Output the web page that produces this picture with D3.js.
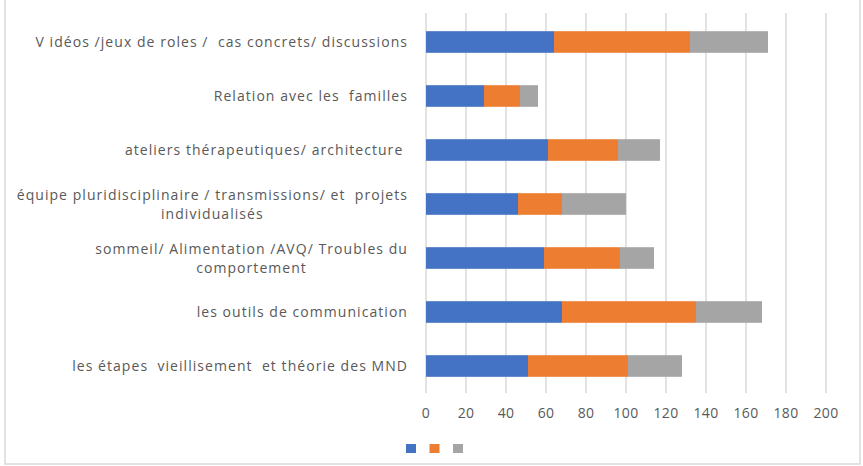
<!DOCTYPE html>
<html><head><meta charset="utf-8">
<script src="https://cdn.jsdelivr.net/npm/d3@7"></script>
<style>body{margin:0;background:#fff}svg{display:block}text{font-family:"Open Sans",sans-serif;fill:#595959}</style>
</head><body>
<svg id="c" width="863" height="466"></svg>
<script>
const categories = [
  ["V idéos /jeux de roles /  cas concrets/ discussions"],
  ["Relation avec les  familles"],
  ["ateliers thérapeutiques/ architecture "],
  ["équipe pluridisciplinaire / transmissions/ et  projets", "individualisés"],
  ["sommeil/ Alimentation /AVQ/ Troubles du", "comportement"],
  ["les outils de communication"],
  ["les étapes  vieillisement  et théorie des MND"]
];
const series1 = [64, 29, 61, 46, 59, 68, 51];
const series2 = [68, 18, 35, 22, 38, 67, 50];
const series3 = [39, 9, 21, 32, 17, 33, 27];
const seriesNames = ["", "", ""];
const tickValues = [0, 20, 40, 60, 80, 100, 120, 140, 160, 180, 200];
const colors = ["#4472C4", "#ED7D31", "#A5A5A5"];

(function() {
const svg = d3.select("#c");
svg.append("rect").attr("x", 5).attr("y", -2).attr("width", 855).attr("height", 466)
  .attr("fill", "#fff").attr("stroke", "#d9d9d9").attr("stroke-width", 1.5);

const pL = 426, pR = 826, pT = 15, pB = 393;
const x = d3.scaleLinear().domain([0, 200]).range([pL, pR]);
const y = d3.scaleBand().domain(d3.range(categories.length)).range([pT, pB]).paddingInner(0.6).paddingOuter(0.3);

svg.append("g").selectAll("line").data(tickValues).join("line")
  .attr("x1", d => x(d)).attr("x2", d => x(d)).attr("y1", 13).attr("y2", pB)
  .attr("stroke", "#d9d9d9").attr("stroke-width", 1.5);

const rows = categories.map((c, i) => ({i, v: [series1[i], series2[i], series3[i]]}));
const stacked = d3.stack().keys([0, 1, 2]).value((d, k) => d.v[k])(rows);
svg.append("g").selectAll("g").data(stacked).join("g").attr("fill", (d, k) => colors[k])
  .selectAll("rect").data(d => d).join("rect")
  .attr("x", d => x(d[0])).attr("width", d => x(d[1]) - x(d[0]))
  .attr("y", d => y(d.data.i)).attr("height", y.bandwidth());

svg.append("g").selectAll("text").data(tickValues).join("text")
  .attr("x", d => x(d)).attr("y", 418).attr("text-anchor", "middle")
  .attr("font-size", 14).style("letter-spacing", "0.3px").text(d => d);

const lineH = 19;
const lab = svg.append("g").selectAll("text").data(categories).join("text")
  .attr("text-anchor", "middle").attr("font-size", 14)
  .style("letter-spacing", "1.05px").style("white-space", "pre");
lab.each(function(lines, i) {
  const t = d3.select(this);
  const cy = y(i) + y.bandwidth() / 2;
  const n = lines.length;
  lines.forEach((ln, j) => {
    t.append("tspan").attr("y", cy + (j - (n - 1) / 2) * lineH + 5).text(ln);
  });
});
lab.each(function() {
  const t = d3.select(this);
  let w = 0;
  t.selectAll("tspan").each(function() { w = Math.max(w, this.getComputedTextLength()); });
  t.selectAll("tspan").attr("x", 408 - w / 2);
});

svg.append("g").selectAll("rect").data(seriesNames).join("rect")
  .attr("x", (d, k) => 406 + k * 23.5).attr("y", 444).attr("width", 10).attr("height", 9)
  .attr("fill", (d, k) => colors[k]);
})();
</script>
</body></html>
